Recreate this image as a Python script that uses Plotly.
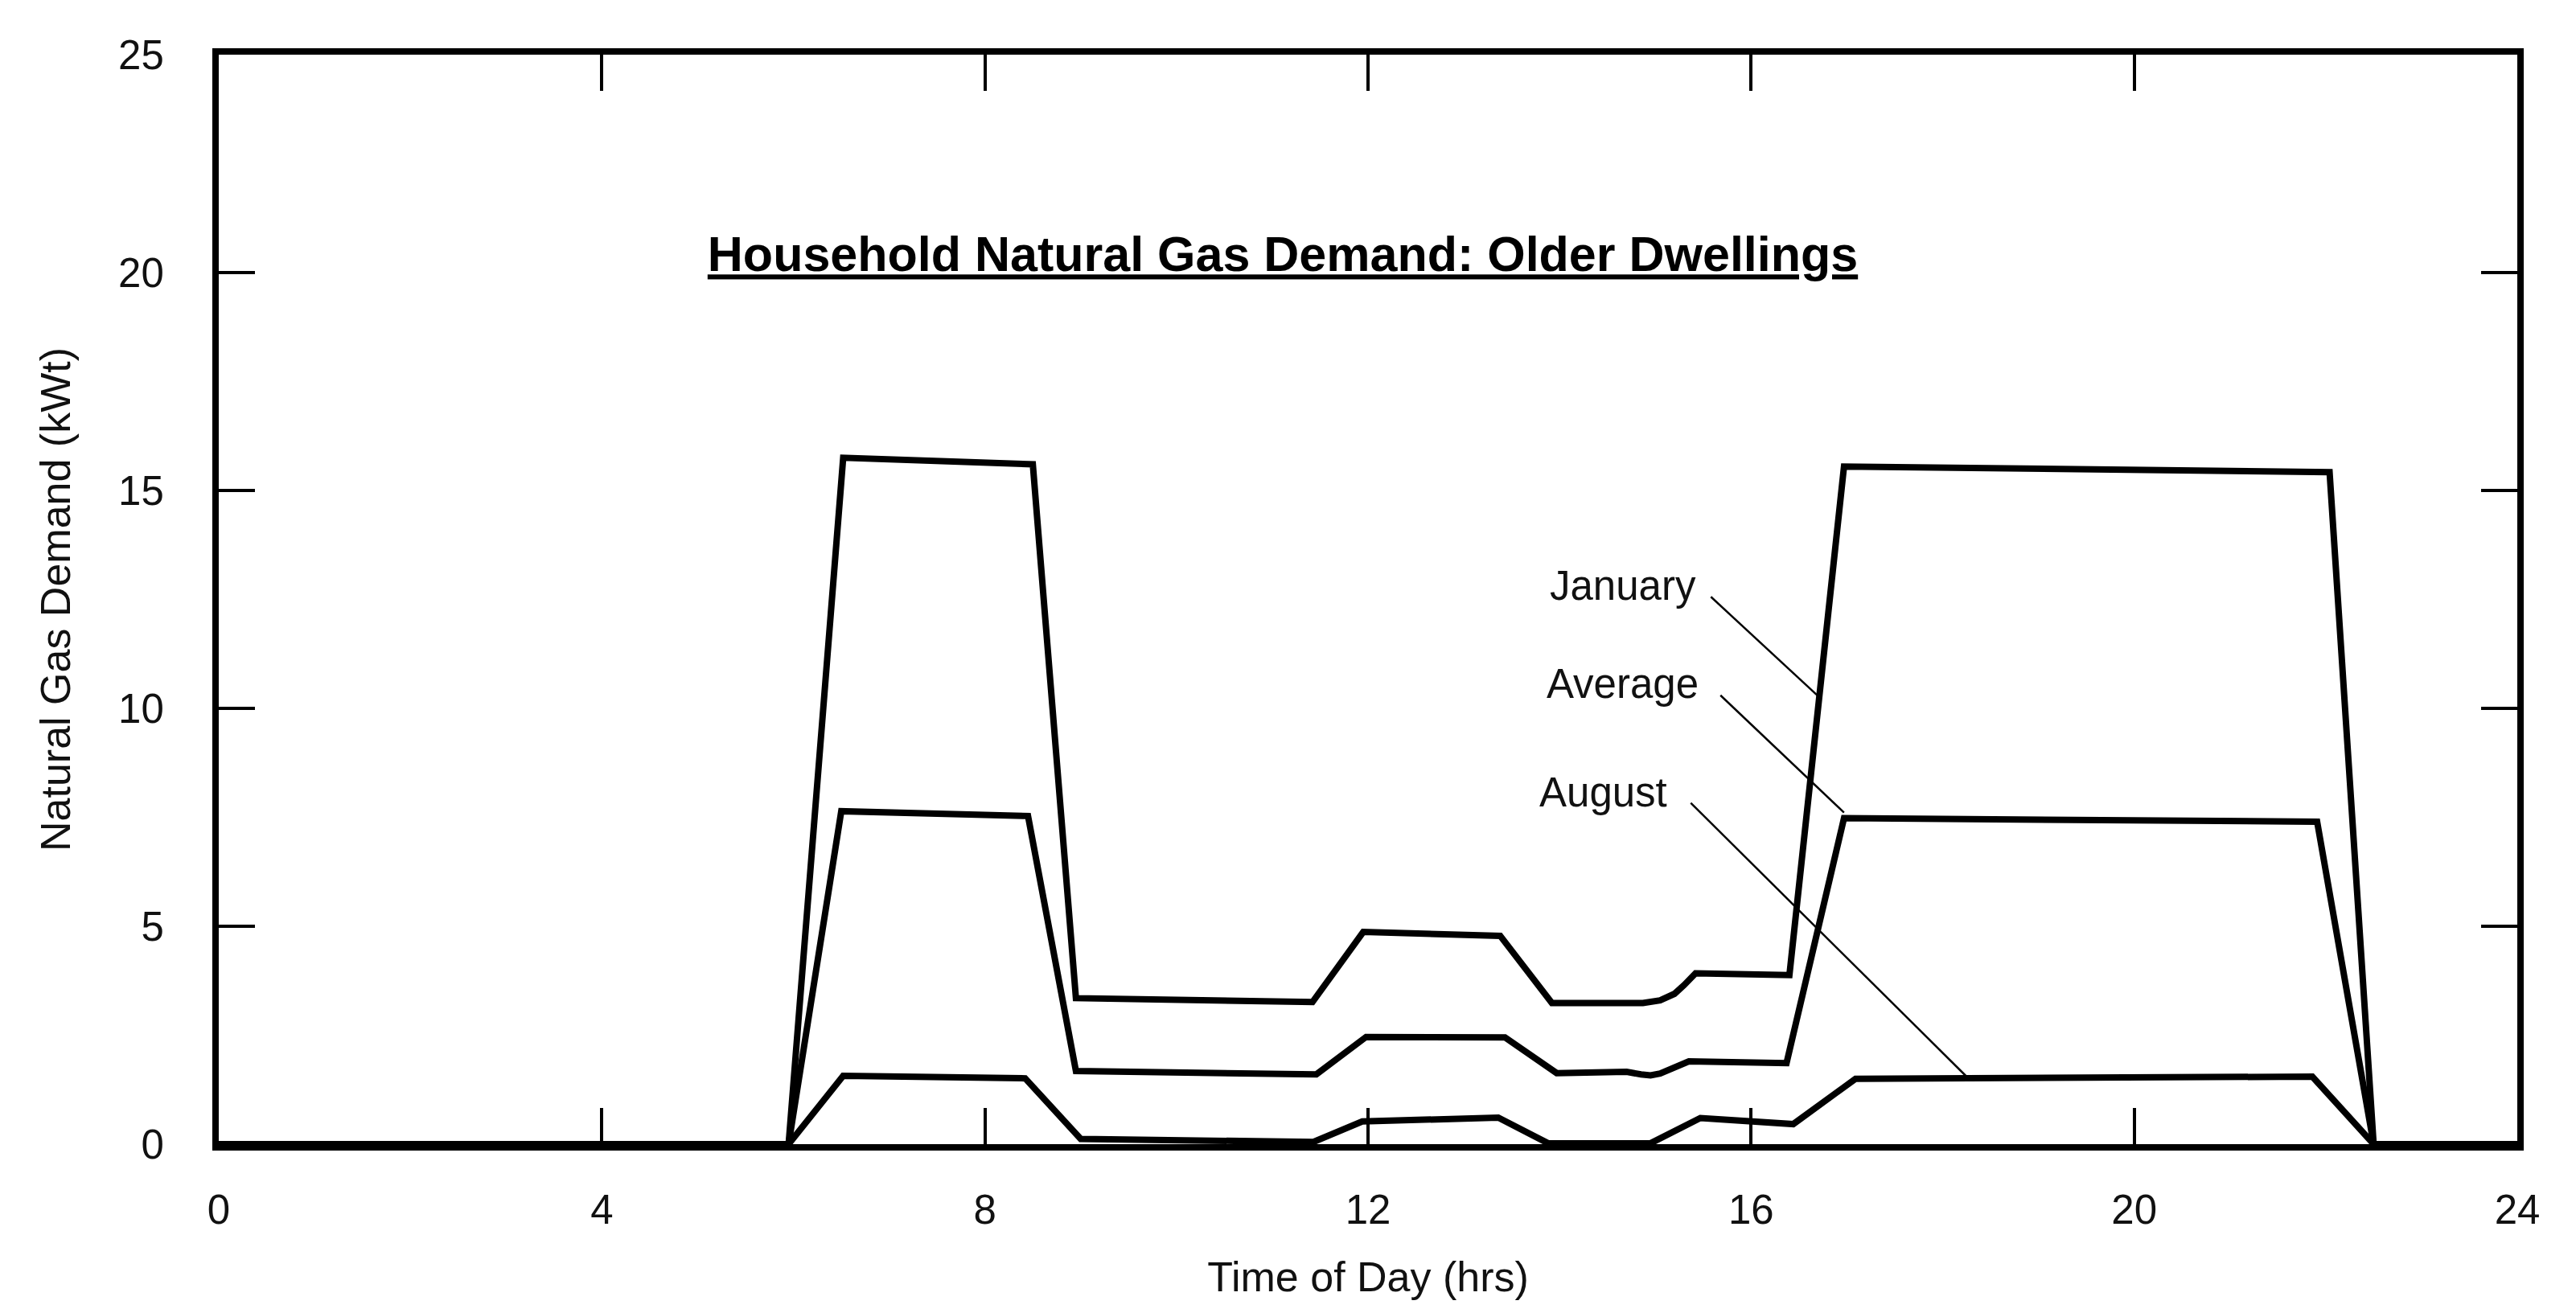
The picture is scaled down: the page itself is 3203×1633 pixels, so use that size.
import plotly.graph_objects as go

# ---------------- data ----------------
jan_x = [0, 5.95, 6.52, 8.50, 8.95, 11.42, 11.95, 13.38, 13.92, 14.87, 15.05, 15.20, 15.30, 15.42, 16.40, 16.97, 22.04, 22.50, 24]
jan_y = [0, 0, 15.75, 15.60, 3.35, 3.26, 4.87, 4.78, 3.24, 3.24, 3.30, 3.45, 3.65, 3.92, 3.88, 15.55, 15.42, 0, 0]

avg_x = [0, 5.95, 6.50, 8.45, 8.95, 11.46, 11.98, 13.43, 13.97, 14.70, 14.85, 14.95, 15.05, 15.35, 16.37, 16.97, 21.91, 22.50, 24]
avg_y = [0, 0, 7.64, 7.53, 1.68, 1.60, 2.46, 2.45, 1.63, 1.66, 1.60, 1.58, 1.62, 1.90, 1.86, 7.48, 7.40, 0, 0]

aug_x = [0, 5.95, 6.52, 8.42, 9.00, 11.43, 11.94, 13.36, 13.88, 14.95, 15.47, 16.44, 17.09, 21.86, 22.50, 24]
aug_y = [0, 0, 1.57, 1.51, 0.12, 0.05, 0.52, 0.61, 0.02, 0.02, 0.60, 0.46, 1.50, 1.55, 0, 0]

series_names = ["January", "Average", "August"]

# label text positions and leader lines (data coordinates)
label_x = [14.66, 14.66, 14.46]
label_y = [12.82, 10.57, 8.07]
leader_x0 = [15.58, 15.68, 15.37]
leader_y0 = [12.56, 10.30, 7.83]
leader_x1 = [16.71, 16.97, 18.25]
leader_y1 = [10.26, 7.61, 1.55]

x_ticks = [0, 4, 8, 12, 16, 20, 24]
y_ticks = [0, 5, 10, 15, 20, 25]

title_text = "Household Natural Gas Demand: Older Dwellings"
x_title = "Time of Day (hrs)"
y_title = "Natural Gas Demand (kWt)"

# ---------------- figure ----------------
FONT = "Liberation Sans, Arial, Helvetica, sans-serif"
W, H = 3203, 1633

fig = go.Figure()
for xs, ys, nm in [(jan_x, jan_y, series_names[0]),
                   (avg_x, avg_y, series_names[1]),
                   (aug_x, aug_y, series_names[2])]:
    fig.add_trace(go.Scatter(x=xs, y=ys, mode="lines", name=nm,
                             line=dict(color="black", width=8),
                             showlegend=False, cliponaxis=False))

for i, nm in enumerate(series_names):
    fig.add_annotation(x=label_x[i], y=label_y[i], xref="x", yref="y",
                       text=nm, showarrow=False,
                       font=dict(family=FONT, size=51, color="#111"),
                       xanchor="center", yanchor="middle")
    fig.add_shape(type="line", xref="x", yref="y",
                  x0=leader_x0[i], y0=leader_y0[i],
                  x1=leader_x1[i], y1=leader_y1[i],
                  line=dict(color="black", width=2.5))

fig.update_layout(
    width=W, height=H,
    margin=dict(l=264, r=81, t=60, b=218, pad=0),
    paper_bgcolor="white", plot_bgcolor="white",
    font=dict(family=FONT, size=51, color="#111"),
    title=dict(text="<b><u>" + title_text + "</u></b>",
               x=1587 / W, xref="container",
               y=1 - 308 / H, yref="container",
               xanchor="center", yanchor="middle",
               font=dict(family=FONT, size=61, color="black")),
)

fig.update_xaxes(range=[0, 24], tickvals=x_ticks, ticktext=[str(v) for v in x_ticks],
                 showgrid=False, zeroline=False, automargin=False,
                 showline=True, linecolor="black", linewidth=8, mirror="ticks",
                 ticks="inside", ticklen=45, tickwidth=4, tickcolor="black",
                 ticklabelstandoff=30,
                 tickfont=dict(family=FONT, size=51, color="#111"),
                 title=dict(text=x_title, standoff=40,
                            font=dict(family=FONT, size=52, color="#111")))
fig.update_yaxes(range=[0, 25], tickvals=y_ticks, ticktext=[str(v) for v in y_ticks],
                 showgrid=False, zeroline=False, automargin=False,
                 showline=True, linecolor="black", linewidth=8, mirror="ticks",
                 ticks="inside", ticklen=45, tickwidth=4, tickcolor="black",
                 ticklabelstandoff=50,
                 tickfont=dict(family=FONT, size=51, color="#111"),
                 title=dict(text=y_title, standoff=46,
                            font=dict(family=FONT, size=52, color="#111")))

fig.write_html("out.html")
